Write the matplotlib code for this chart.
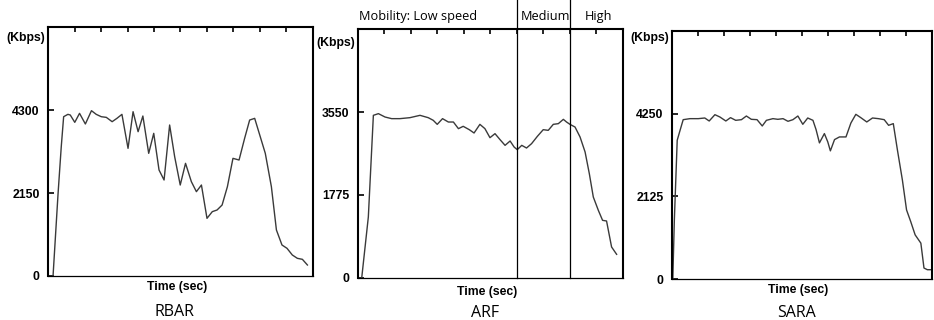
import matplotlib
matplotlib.use("Agg")
import matplotlib.pyplot as plt

# --- data (time in % of run, throughput in Kbps) ---
rbar_t = [1.9, 3.8, 5.0, 5.9, 7.5, 8.4, 10.1, 11.9, 14.1, 16.4, 18.2, 20.1, 22.0, 24.2,
          26.0, 27.9, 30.2, 32.1, 34.0, 35.8, 38.0, 39.9, 41.9, 43.8, 45.9, 47.8, 49.9,
          51.9, 54.1, 56.0, 57.9, 60.0, 62.0, 63.8, 65.7, 67.7, 69.8, 72.1, 74.2, 76.1,
          78.0, 80.1, 82.0, 84.3, 86.2, 88.3, 90.2, 92.2, 94.1, 96.0, 97.9]
rbar_v = [0, 2141, 3350, 4127, 4188, 4171, 3981, 4214, 3938, 4283, 4188, 4127, 4110, 3998,
          4084, 4188, 3307, 4257, 3739, 4145, 3178, 3696, 2746, 2487, 3912, 3091, 2357,
          2919, 2444, 2185, 2357, 1494, 1667, 1710, 1839, 2314, 3048, 3005, 3566, 4041,
          4084, 3609, 3178, 2314, 1192, 803, 717, 544, 458, 432, 285]

arf_t = [1.4, 3.9, 5.8, 7.7, 10.2, 12.7, 15.8, 19.6, 23.4, 26.5, 28.4, 29.9, 31.9, 34.1,
         36.0, 37.9, 39.7, 42.0, 43.8, 46.0, 47.9, 49.8, 51.7, 53.6, 55.5, 57.4, 58.9,
         60.1, 61.8, 63.6, 65.5, 67.7, 69.9, 71.8, 73.7, 75.6, 77.5, 78.7, 80.0, 81.9,
         83.8, 85.7, 87.3, 88.8, 90.7, 92.3, 93.8, 95.7, 97.6]
arf_v = [0, 1305, 3479, 3515, 3443, 3408, 3408, 3429, 3479, 3429, 3372, 3286, 3408, 3336,
         3336, 3194, 3244, 3172, 3101, 3286, 3194, 3001, 3087, 2959, 2837, 2930, 2802,
         2745, 2837, 2780, 2873, 3030, 3172, 3158, 3286, 3301, 3393, 3336, 3286, 3229,
         3016, 2695, 2231, 1732, 1447, 1233, 1219, 663, 506]

sara_t = [0.3, 0.9, 2.0, 3.1, 4.3, 6.9, 10.1, 12.6, 14.3, 16.5, 18.4, 20.7, 22.5, 24.5,
          26.7, 28.6, 30.5, 32.7, 34.7, 36.3, 38.8, 40.7, 42.7, 44.6, 46.5, 48.4, 50.3,
          52.2, 54.2, 55.4, 56.7, 58.6, 59.9, 60.9, 62.5, 64.4, 66.9, 68.8, 70.7, 72.6,
          74.9, 77.1, 79.4, 81.6, 83.3, 85.1, 86.7, 88.6, 90.2, 91.8, 93.5, 95.7, 96.9,
          98.2, 99.5]
sara_v = [0, 1519, 3567, 3823, 4096, 4122, 4122, 4139, 4062, 4224, 4165, 4062, 4148, 4079,
          4096, 4190, 4105, 4096, 3934, 4079, 4122, 4105, 4122, 4054, 4096, 4190, 3977,
          4139, 4079, 3840, 3499, 3738, 3525, 3294, 3584, 3652, 3652, 4011, 4233, 4148,
          4037, 4139, 4122, 4096, 3951, 3994, 3311, 2543, 1775, 1476, 1135, 922, 282,
          239, 239]

panels = [
    ("RBAR", rbar_t, rbar_v, 4300, [0.0514, 0.1375, 0.2837, 0.778], 0.956, 287, 312),
    ("ARF", arf_t, arf_v, 3550, [0.3833, 0.1313, 0.2837, 0.778], 0.944, 292, 313),
    ("SARA", sara_t, sara_v, 4250, [0.7195, 0.1281, 0.2784, 0.775], 0.972, 290, 313),
]
mobility_splits = [60, 80]

bold = dict(family="Liberation Sans", weight="bold", size=8.8)

fig = plt.figure(figsize=(9.34, 3.2), dpi=100)

for name, t, v, ytick, rect, kbps_y, xlab_py, title_py in panels:
    ax = fig.add_axes(rect)
    ax.plot(t, v, color="#3a3a3a", lw=1.0)
    ax.set_xlim(0, 100)
    ax.set_ylim(0, ytick * 1.5)
    ax.set_yticks([0, ytick / 2, ytick])
    ax.set_yticklabels(["0", f"{ytick / 2:g}", f"{ytick:g}"], fontdict=bold)
    ax.set_xticks(range(10, 100, 10))
    ax.tick_params(axis="y", direction="in", length=4, width=1.2, pad=6)
    ax.tick_params(axis="x", direction="in", length=3.5, width=1.2,
                   bottom=False, top=True, labelbottom=False, labeltop=False)
    for side in ["left", "top", "right"]:
        ax.spines[side].set_linewidth(1.5)
    ax.spines["bottom"].set_linewidth(0.9)

    ax.text(-0.01, kbps_y, "(Kbps)", transform=ax.transAxes, ha="right", va="center", **bold)
    # x label and panel name placed in figure pixels below the axes
    cx = rect[0] + rect[2] / 2
    fig.text(cx - 0.004, 1 - xlab_py / 320, "Time (sec)", ha="center", va="center", **bold)
    fig.text(cx - 0.006, 1 - title_py / 320, name, ha="center", va="center",
             family="Open Sans", size=11.5)

    if name == "ARF":
        for xs in mobility_splits:
            ax.axvline(xs, ymin=0, ymax=1.116, color="black", lw=0.9, clip_on=False)
        ax.text(0.003, 1.052, "Mobility: Low speed", transform=ax.transAxes,
                ha="left", va="center", family="Open Sans", size=9.2)
        ax.text(0.615, 1.052, "Medium", transform=ax.transAxes,
                ha="left", va="center", family="Open Sans", size=9.2)
        ax.text(0.855, 1.052, "High", transform=ax.transAxes,
                ha="left", va="center", family="Open Sans", size=9.2)

fig.savefig("out.png", dpi=100)
